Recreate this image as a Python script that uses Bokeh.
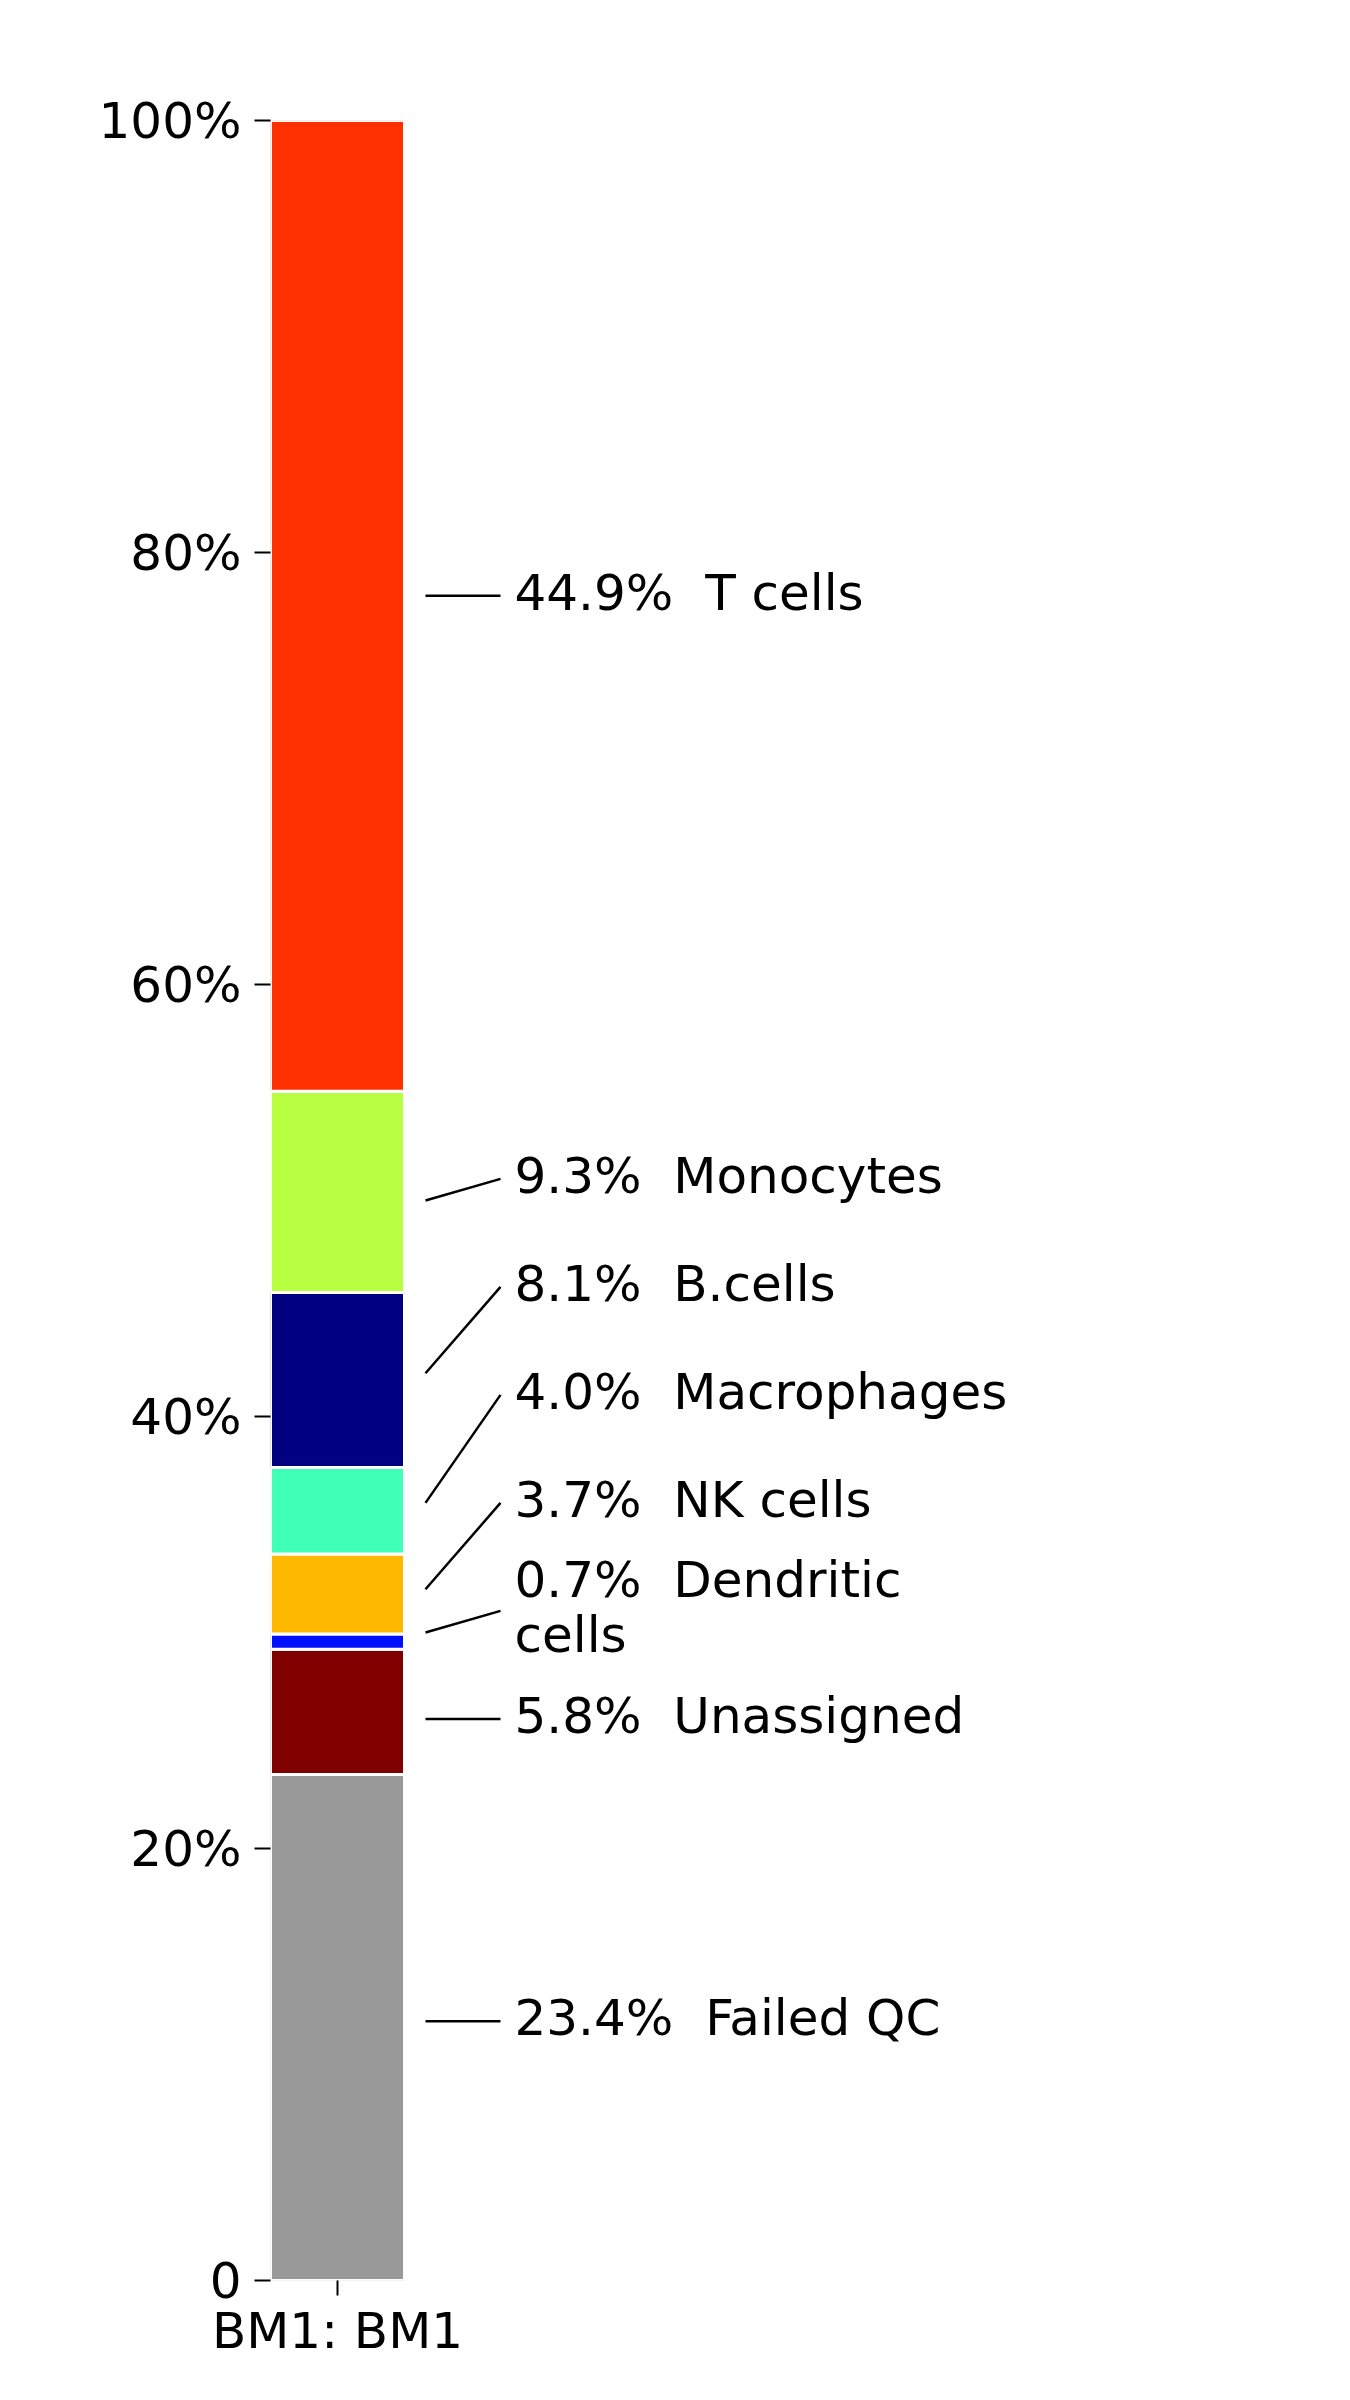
import numpy as np
from bokeh.plotting import figure
from bokeh.models import Range1d, FixedTicker, ColumnDataSource
from bokeh.core.properties import value
from bokeh.embed import file_html
from bokeh.resources import INLINE

# ---- data ----
cell_types = ["Failed QC", "Unassigned", "Dendritic\ncells", "NK cells",
              "Macrophages", "B.cells", "Monocytes", "T cells"]
percents = [23.4, 5.8, 0.7, 3.7, 4.0, 8.1, 9.3, 44.9]
colors = ["#999999", "#800000", "#0010FF", "#FFB900",
          "#40FFB7", "#000080", "#B7FF40", "#FF3000"]
sample_labels = ["BM1: BM1"]
y_ticks = [0, 20, 40, 60, 80, 100]
y_tick_labels = ["0", "20%", "40%", "60%", "80%", "100%"]

# ---- derived ----
pct = np.array(percents, dtype=float)
frac = pct / pct.sum() * 100.0
tops = np.cumsum(frac)
bottoms = tops - frac
centers = (tops + bottoms) / 2.0

min_gap = 5
anchor_y = [round(c) for c in centers]
label_y = []
prev = -1e9
for a in anchor_y:
    yv = max(a, prev + min_gap)
    label_y.append(yv)
    prev = yv

NBSP = "\u00a0"
labels = [f"{v:.1f}%{NBSP}{NBSP}{n}" for v, n in zip(percents, cell_types)]

# layout constants (1 x-unit = bar width in px)
BAR_PX = 134.0
frame_w = 1020
leader_x0 = 88 / BAR_PX
leader_x1 = 163 / BAR_PX
text_x = 177 / BAR_PX

src = ColumnDataSource(dict(bottom=bottoms, top=tops, color=colors))

p = figure(width=1300, height=2380,
           x_range=Range1d(-0.5, -0.5 + frame_w / BAR_PX),
           y_range=Range1d(0, 100),
           output_backend="svg", toolbar_location=None,
           min_border_left=270, min_border_right=10,
           min_border_top=120, min_border_bottom=100)

p.vbar(x=0, width=1, bottom="bottom", top="top", fill_color="color",
       line_color="white", line_width=3, source=src)

p.segment(x0=[leader_x0] * len(centers), y0=anchor_y,
          x1=[leader_x1] * len(centers), y1=label_y,
          line_color="black", line_width=2.5)

p.text(x=[text_x] * len(labels), y=label_y, text=labels,
       text_font=value("DejaVu Sans"), text_font_size="50px",
       text_baseline="middle", text_align="left", text_color="black",
       text_line_height=0.95, y_offset=-3)

p.xgrid.visible = False
p.ygrid.visible = False
p.outline_line_color = None
p.background_fill_color = "white"
p.border_fill_color = "white"

ya = p.yaxis[0]
ya.ticker = FixedTicker(ticks=y_ticks)
ya.major_label_overrides = dict(zip(y_ticks, y_tick_labels))
ya.axis_line_color = None
ya.major_tick_in = 0
ya.major_tick_out = 16
ya.major_tick_line_width = 2
ya.minor_tick_line_color = None
ya.major_label_text_font = "DejaVu Sans"
ya.major_label_text_font_size = "50px"
ya.major_label_text_color = "black"
ya.major_label_standoff = 13

xa = p.xaxis[0]
xa.ticker = FixedTicker(ticks=[0])
xa.major_label_overrides = {0: sample_labels[0]}
xa.axis_line_color = None
xa.major_tick_in = 0
xa.major_tick_out = 15
xa.major_tick_line_width = 2
xa.minor_tick_line_color = None
xa.major_label_text_font = "DejaVu Sans"
xa.major_label_text_font_size = "50px"
xa.major_label_text_color = "black"
xa.major_label_standoff = 6

open("out.html", "w").write(file_html(p, INLINE))
